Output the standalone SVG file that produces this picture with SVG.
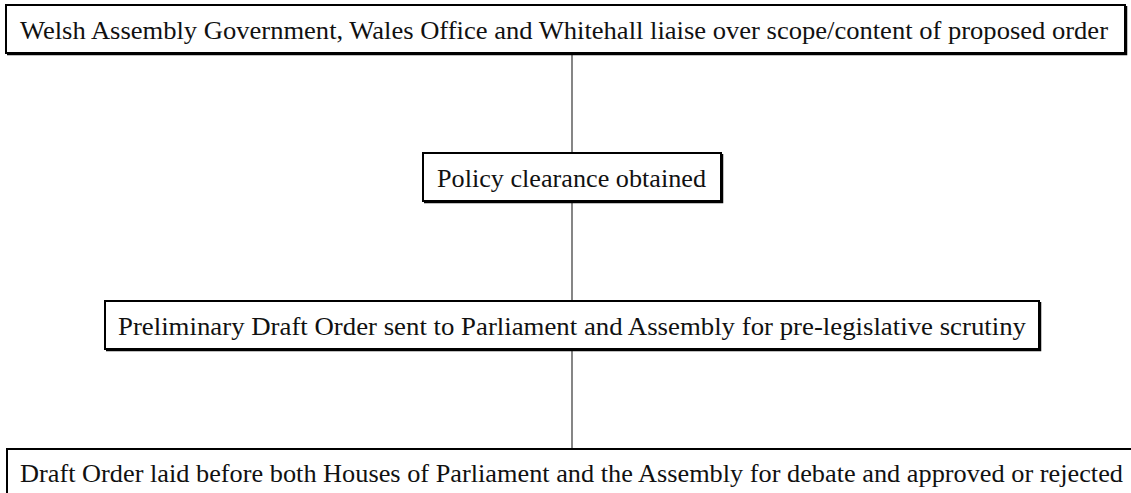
<svg xmlns="http://www.w3.org/2000/svg" width="1131" height="493" viewBox="0 0 1131 493">
<style>
.box{fill:#fff;stroke:#000;stroke-width:2}
.sh{fill:none;stroke:#000;stroke-width:1.5}
.t{font-family:"Liberation Serif","Times New Roman",serif;font-size:24.5px;fill:#111}
.c{stroke:#444;stroke-width:1.3;fill:none}
</style>
<rect width="1131" height="493" fill="#fff"/>
<g id="connectors">
<line class="c" x1="572" y1="54" x2="572" y2="153"/>
<line class="c" x1="572" y1="201" x2="572" y2="301"/>
<line class="c" x1="572" y1="350" x2="572" y2="449"/>
</g>
<g id="node1">
<rect class="box" x="6" y="5" width="1119" height="48"/>
<path class="sh" d="M1126.5 6 V54.5 H7"/>
<text class="t" x="20" y="39" textLength="1088" lengthAdjust="spacingAndGlyphs">Welsh Assembly Government, Wales Office and Whitehall liaise over scope/content of proposed order</text>
</g>
<g id="node2">
<rect class="box" x="423" y="153" width="298" height="48"/>
<path class="sh" d="M722.5 154 V202.5 H424"/>
<text class="t" x="437" y="187" textLength="269" lengthAdjust="spacingAndGlyphs">Policy clearance obtained</text>
</g>
<g id="node3">
<rect class="box" x="105" y="301" width="934" height="48"/>
<path class="sh" d="M1040.5 302 V350.5 H106"/>
<text class="t" x="118" y="335" textLength="908" lengthAdjust="spacingAndGlyphs">Preliminary Draft Order sent to Parliament and Assembly for pre-legislative scrutiny</text>
</g>
<g id="node4">
<rect class="box" x="7" y="449" width="1140" height="60"/>
<text class="t" x="20" y="482" textLength="1103" lengthAdjust="spacingAndGlyphs">Draft Order laid before both Houses of Parliament and the Assembly for debate and approved or rejected</text>
</g>
</svg>
